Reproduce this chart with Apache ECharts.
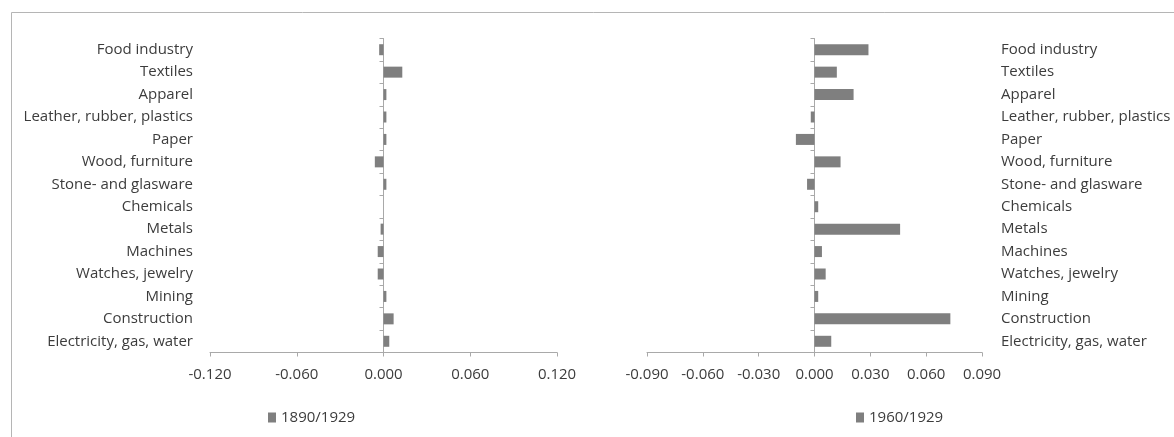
<!DOCTYPE html>
<html>
<head>
<meta charset="utf-8">
<script src="https://cdn.jsdelivr.net/npm/echarts@6/dist/echarts.min.js"></script>
<style>
html,body{margin:0;padding:0;background:#fff;}
#c{width:1174px;height:437px;}
</style>
</head>
<body>
<div id="c"></div>
<script>
const categories = ['Food industry','Textiles','Apparel','Leather, rubber, plastics','Paper','Wood, furniture','Stone- and glasware','Chemicals','Metals','Machines','Watches, jewelry','Mining','Construction','Electricity, gas, water'];
const values1890 = [-0.003, 0.013, 0.002, 0.002, 0.002, -0.006, 0.002, 0.000, -0.002, -0.004, -0.004, 0.002, 0.007, 0.004];
const values1960 = [0.029, 0.012, 0.021, -0.002, -0.010, 0.014, -0.004, 0.002, 0.046, 0.004, 0.006, 0.002, 0.073, 0.009];
const seriesNames = ['1890/1929', '1960/1929'];
const leftTicks = {min: -0.12, max: 0.12, interval: 0.06};
const rightTicks = {min: -0.09, max: 0.09, interval: 0.03};

const FONT = 'Open Sans';
const FS = 15;
const TXT = '#3c3c3c';
const AX = '#a9a9a9';
const BAR = '#7f7f7f';
const fmt = v => (Math.abs(v) < 1e-9 ? 0 : v).toFixed(3);

function xAxisCfg(grid, t) {
  return {
    gridIndex: grid, type: 'value', min: t.min, max: t.max, interval: t.interval,
    position: 'bottom',
    axisLine: {show: true, onZero: false, lineStyle: {color: AX, width: 1}},
    axisTick: {show: true, length: 4, lineStyle: {color: AX}},
    splitLine: {show: false},
    axisLabel: {formatter: fmt, color: TXT, fontFamily: FONT, fontSize: FS, margin: 15}
  };
}
function labelAxis(grid, pos, margin) {
  return {
    gridIndex: grid, type: 'category', inverse: true, data: categories, position: pos,
    axisLine: {show: false, onZero: false}, axisTick: {show: false},
    axisLabel: {color: TXT, fontFamily: FONT, fontSize: FS, margin: margin}
  };
}
function zeroAxis(grid) {
  return {
    gridIndex: grid, type: 'category', inverse: true, data: categories, position: 'left',
    axisLine: {show: true, onZero: true, lineStyle: {color: AX, width: 1}},
    axisTick: {show: true, length: 4, lineStyle: {color: AX}},
    axisLabel: {show: false}, splitLine: {show: false}
  };
}
const legendText = {color: TXT, fontFamily: FONT, fontSize: FS};

const chart = echarts.init(document.getElementById('c'));
chart.setOption({
  animation: false,
  backgroundColor: '#fff',
  graphic: [{
    type: 'rect', shape: {x: 11.5, y: 12.5, width: 1400, height: 800},
    style: {fill: 'none', stroke: '#b5b5b5', lineWidth: 1}, silent: true
  }],
  grid: [
    {left: 210, width: 347, top: 38.5, height: 314},
    {left: 647, width: 335, top: 38.5, height: 314}
  ],
  xAxis: [xAxisCfg(0, leftTicks), xAxisCfg(1, rightTicks)],
  yAxis: [labelAxis(0, 'left', 17), zeroAxis(0), labelAxis(1, 'right', 19), zeroAxis(1)],
  legend: [
    {data: [seriesNames[0]], left: 263, top: 405, icon: 'rect', itemWidth: 8, itemHeight: 10, textStyle: legendText},
    {data: [seriesNames[1]], left: 851, top: 405, icon: 'rect', itemWidth: 8, itemHeight: 10, textStyle: legendText}
  ],
  series: [
    {name: seriesNames[0], type: 'bar', xAxisIndex: 0, yAxisIndex: 0, data: values1890,
     barWidth: 11, itemStyle: {color: BAR}},
    {name: seriesNames[1], type: 'bar', xAxisIndex: 1, yAxisIndex: 2, data: values1960,
     barWidth: 11, itemStyle: {color: BAR}}
  ]
});
</script>
</body>
</html>
